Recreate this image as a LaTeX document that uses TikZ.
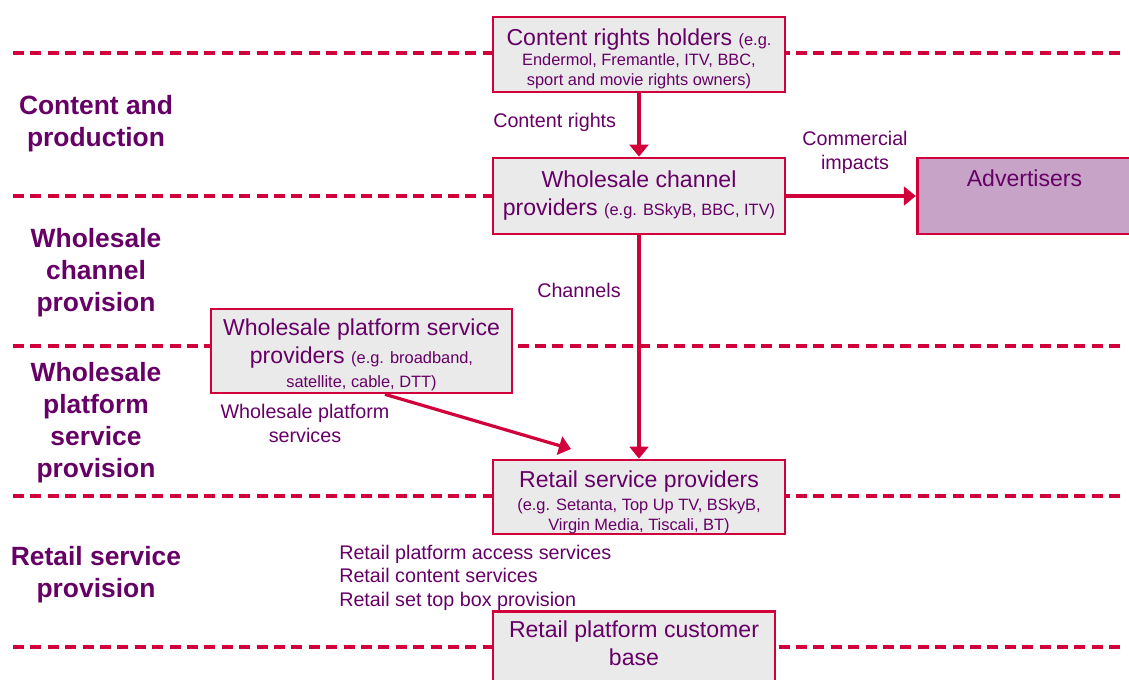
\documentclass[tikz,border=0pt]{standalone}
\usepackage{fontspec}
\setmainfont{Liberation Sans}
\usetikzlibrary{arrows.meta}
\definecolor{chainred}{RGB}{210,0,58}
\definecolor{chainpurple}{RGB}{102,0,102}
\definecolor{boxgray}{RGB}{234,234,234}
\definecolor{adlilac}{RGB}{200,163,200}
\newcommand\headfont{\fontsize{17.3}{21}\selectfont}
\newcommand\egfont{\fontsize{12.3}{15}\selectfont}
\newcommand\flowfont{\fontsize{14.8}{18}\selectfont}
\tikzset{
    chain-box/.style = {draw=chainred, fill=boxgray, line width=2pt, rectangle, inner sep=0pt},
    ad-box/.style = {chain-box, fill=adlilac},
    box-text/.style = {text=chainpurple, font=\headfont, align=center, inner sep=0pt},
    flow-label/.style = {text=chainpurple, font=\flowfont, inner sep=0pt},
    layer-title/.style = {text=chainpurple, font=\fontsize{19.8}{24}\selectfont\bfseries, align=center, inner sep=0pt},
    layer-line/.style = {draw=chainred, line width=2.4pt, dash pattern=on 8.25pt off 4.8pt},
    flow-arrow/.style = {draw=chainred, line width=2.4pt, -{Triangle[width=14pt,length=9pt]}},
}

\begin{document}
\begin{tikzpicture}[x=0.75pt,y=-0.75pt]
\useasboundingbox (0,0) rectangle (1129,679);
% layer boundaries
\foreach \ly in {53,196,346,496,647}
    \draw[layer-line] (13,\ly) -- (1122,\ly);

% layer titles
\node[layer-title] (t-content) at (96,124) {Content and\\production};
\node[layer-title] (t-channel) at (96,272.5) {Wholesale\\channel\\provision};
\node[layer-title] (t-platform) at (96,423) {Wholesale\\platform\\service\\provision};
\node[layer-title] (t-retail) at (96,575) {Retail service\\provision};

% value chain boxes
\node[chain-box, minimum width=219pt, minimum height=56.25pt,
    label={[box-text, yshift=-3.4pt]center:Content rights holders {\egfont(e.g.}\\[-6pt]{\egfont Endermol, Fremantle, ITV, BBC,}\\[-6pt]{\egfont sport and movie rights owners)}}] (rights) at (639,54.5) {};
\node[chain-box, minimum width=219pt, minimum height=57pt,
    label={[box-text]center:Wholesale channel\\providers {\egfont(e.g. BSkyB, BBC, ITV)}}] (wholesale) at (639,196) {};
\node[ad-box, minimum width=167pt, minimum height=57pt,
    label={[box-text, anchor=north, yshift=-10pt, xshift=-3pt]north:Advertisers}] (adv) at (1028.5,196) {};
\node[chain-box, minimum width=225.75pt, minimum height=63pt,
    label={[box-text, yshift=-3pt]center:Wholesale platform service\\providers {\egfont(e.g. broadband,}\\[-3pt]{\egfont satellite, cable, DTT)}}] (platform) at (361.5,351) {};
\node[chain-box, minimum width=219pt, minimum height=55.5pt,
    label={[box-text, yshift=-4pt]center:Retail service providers\\[-4pt]{\egfont(e.g. Setanta, Top Up TV, BSkyB,}\\[-6pt]{\egfont Virgin Media, Tiscali, BT)}}] (retail) at (639,497) {};
\node[chain-box, minimum width=211.5pt, minimum height=75pt, anchor=north,
    label={[box-text, anchor=north, yshift=-8.25pt]north:Retail platform customer\\base}] (base) at (634,610) {};

% flows
\draw[flow-arrow] (rights) -- (wholesale);
\draw[flow-arrow] (wholesale) -- (adv);
\draw[flow-arrow] (wholesale) -- (retail);
\coordinate (platform-out) at ([xshift=17.6pt]platform.south);
\coordinate (platform-in) at (571,449);
\draw[flow-arrow] (platform-out) -- (platform-in);

% flow labels
\node[flow-label, anchor=west] (l-rights) at (493,122) {Content rights};
\node[flow-label, align=center] (l-impacts) at (855,152) {Commercial\\impacts};
\node[flow-label, anchor=west] (l-channels) at (537,290) {Channels};
\node[flow-label, align=center] (l-platform) at (305,423) {Wholesale platform\\services};
\node[flow-label, align=left, anchor=north west] (l-retail) at (339,545)
    {Retail platform access services\\[-0.5pt]Retail content services\\[-0.5pt]Retail set top box provision};
\end{tikzpicture}
\end{document}
